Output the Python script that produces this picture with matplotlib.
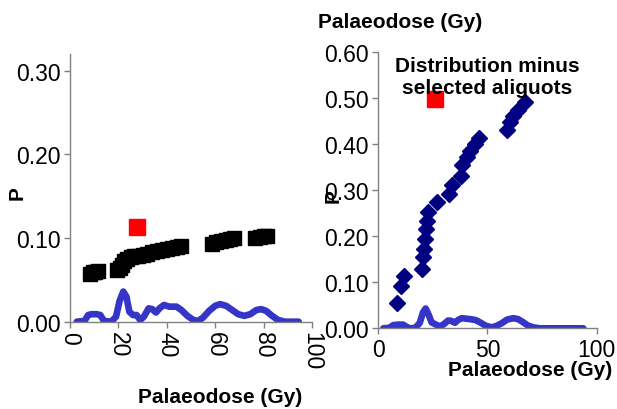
import matplotlib
matplotlib.use("Agg")
import matplotlib.pyplot as plt

plt.rcParams["font.family"] = ["Liberation Sans", "DejaVu Sans"]

# Left panel: all aliquots
LEFT_DOSE = [8.3, 9.5, 10.5, 11.7,
             19.3, 20.5, 21.5, 22.5, 23.5, 25, 26.5, 28, 30, 32, 34, 36, 38,
             40, 42, 44, 46,
             58.6, 60.5, 62.5, 64.5, 66, 67.6,
             76.6, 78.5, 80, 81.4]
LEFT_P = [0.057, 0.059, 0.060, 0.061,
          0.062, 0.064, 0.068, 0.072, 0.075, 0.077, 0.078, 0.079, 0.080,
          0.081, 0.083, 0.084, 0.086, 0.087, 0.088, 0.089, 0.091,
          0.093, 0.095, 0.097, 0.098, 0.099, 0.100,
          0.100, 0.101, 0.102, 0.103]
LEFT_SEL_DOSE = [27.6]
LEFT_SEL_P = [0.113]
LEFT_PDF_X = [2.8, 6, 7.5, 9, 11, 12.5, 14, 17, 19, 20.5, 22, 23.3, 24.5,
              26, 27.5, 29, 30.5, 32.5, 34, 35.5, 37, 38.8, 41, 44, 46,
              48.5, 51, 53, 55, 57.5, 60, 62, 64.5, 67, 69.5, 72, 74.5,
              77, 79, 81, 83.5, 86, 89, 94.5]
LEFT_PDF_Y = [0.0, 0.001, 0.008, 0.009, 0.009, 0.008, 0.001, 0.0, 0.006,
              0.025, 0.036, 0.030, 0.012, 0.008, 0.008, 0.002, 0.006, 0.016,
              0.015, 0.011, 0.016, 0.020, 0.018, 0.018, 0.014, 0.007, 0.002,
              0.001, 0.005, 0.013, 0.019, 0.021, 0.019, 0.014, 0.009, 0.007,
              0.009, 0.014, 0.015, 0.013, 0.007, 0.002, 0.0, 0.0]

# Right panel: distribution minus selected aliquots
RIGHT_DOSE = [8.7, 10.2, 11.9, 19.85, 20.3, 20.9, 21.4, 21.8, 22.1, 22.9,
              26.7, 32.4, 33.6, 37.7, 38.5, 40.5, 42, 44.3, 46.3,
              58.8, 60.3, 61.8, 64.1, 67.2]
RIGHT_P = [0.054, 0.093, 0.113, 0.130, 0.154, 0.172, 0.194, 0.216, 0.234,
           0.252, 0.274, 0.292, 0.312, 0.332, 0.354, 0.372, 0.386, 0.401,
           0.414, 0.432, 0.448, 0.462, 0.475, 0.491]
RIGHT_SEL_DOSE = [26]
RIGHT_SEL_P = [0.498]
RIGHT_PDF_X = [2.3, 5, 6.9, 9, 11.4, 13, 14.5, 17, 19, 20.5, 21.7, 23, 24.4,
               26, 28.3, 30, 32, 33.5, 35.1, 36.5, 38.2, 40, 42, 44.5, 46.6,
               49, 51.9, 54, 56.5, 59, 61.8, 64, 66.4, 68.5, 71, 74, 93.9]
RIGHT_PDF_Y = [0.0, 0.001, 0.007, 0.008, 0.008, 0.003, 0.0, 0.001, 0.012,
               0.035, 0.043, 0.030, 0.013, 0.009, 0.004, 0.009, 0.017, 0.016,
               0.012, 0.018, 0.022, 0.021, 0.020, 0.018, 0.013, 0.006, 0.002,
               0.005, 0.011, 0.019, 0.022, 0.020, 0.013, 0.006, 0.002, 0.0,
               0.0]

BLUE = "#3535c8"
NAVY = "#000080"
SPINE = "#808080"
FS = 15      # bold titles / axis labels
TFS = 16.5   # tick labels


def style_axes(ax):
    for side in ("top", "right"):
        ax.spines[side].set_visible(False)
    for side in ("left", "bottom"):
        ax.spines[side].set_color(SPINE)
        ax.spines[side].set_linewidth(1.0)
    ax.tick_params(direction="out", length=4, width=1, color=SPINE,
                   labelsize=TFS, pad=3)


fig = plt.figure(figsize=(6.17, 4.10), dpi=100)

# Left panel
ax = fig.add_axes([0.1135, 0.2129, 0.3922, 0.6531])
ax.plot(LEFT_PDF_X, LEFT_PDF_Y, color=BLUE, lw=4.8, solid_capstyle="round",
        zorder=2)
ax.plot(LEFT_DOSE, LEFT_P, ls="none", marker="s", ms=9.5, color="black",
        zorder=3)
ax.plot(LEFT_SEL_DOSE, LEFT_SEL_P, ls="none", marker="s", ms=11,
        color="red", zorder=4)
ax.set_xlim(0, 100)
ax.set_ylim(0, 0.32)
ax.set_xticks([0, 20, 40, 60, 80, 100])
ax.set_xticklabels(["0", "20", "40", "60", "80", "100"], rotation=-90,
                   va="top", ha="center")
ax.set_yticks([0, 0.1, 0.2, 0.3])
ax.set_yticklabels(["0.00", "0.10", "0.20", "0.30"])
style_axes(ax)
fig.text(17 / 617, 1 - 193 / 410, "P", rotation=90, fontsize=FS,
         fontweight="bold", ha="center", va="center")
fig.text(220 / 617, 1 - 398 / 410, "Palaeodose (Gy)", fontsize=FS,
         fontweight="bold", ha="center", va="center")

# Right panel
ax2 = fig.add_axes([0.6131, 0.1968, 0.3540, 0.6732])
ax2.plot(RIGHT_PDF_X, RIGHT_PDF_Y, color=BLUE, lw=4.8,
         solid_capstyle="round", zorder=2)
ax2.plot(RIGHT_DOSE, RIGHT_P, ls="none", marker="D", ms=8.5, color=NAVY,
         zorder=3)
ax2.plot(RIGHT_SEL_DOSE, RIGHT_SEL_P, ls="none", marker="s", ms=11,
         color="red", zorder=4)
ax2.set_xlim(0, 100)
ax2.set_ylim(0, 0.6)
ax2.set_xticks([0, 50, 100])
ax2.set_yticks([0, 0.1, 0.2, 0.3, 0.4, 0.5, 0.6])
ax2.set_yticklabels(["0.00", "0.10", "0.20", "0.30", "0.40", "0.50",
                     "0.60"])
style_axes(ax2)
ax2.text(0.5, 0.912, "Distribution minus\nselected aliguots", fontsize=FS,
         fontweight="bold", ha="center", va="center", linespacing=1.25,
         transform=ax2.transAxes, zorder=5)
fig.text(333 / 617, 1 - 196 / 410, "P", rotation=90, fontsize=FS,
         fontweight="bold", ha="center", va="center")
fig.text(318 / 617, 1 - 22 / 410, "Palaeodose (Gy)", fontsize=FS,
         fontweight="bold", ha="left", va="center")
fig.text(612 / 617, 1 - 371 / 410, "Palaeodose (Gy)", fontsize=FS,
         fontweight="bold", ha="right", va="center")

fig.savefig("out.png", dpi=100)
